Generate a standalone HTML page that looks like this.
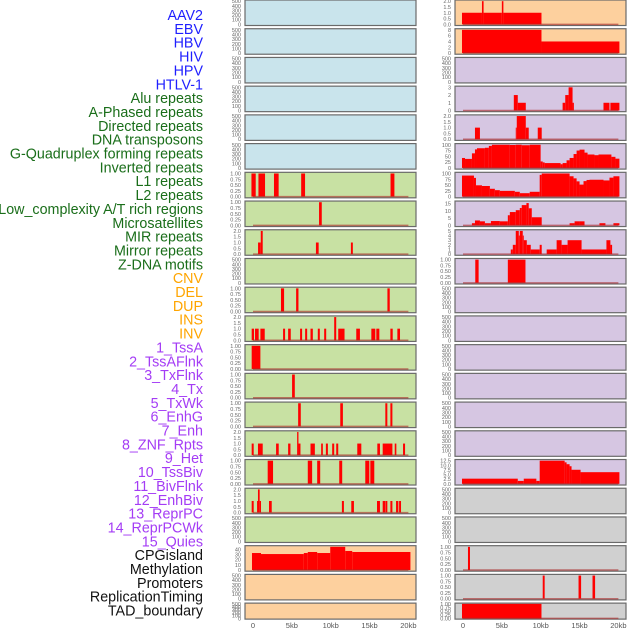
<!DOCTYPE html>
<html><head><meta charset="utf-8">
<style>
html,body{margin:0;padding:0;background:#fff;width:630px;height:630px;overflow:hidden}
svg{display:block}
.lab{font-family:"Liberation Sans",sans-serif;font-size:14.3px}
.tk{font-family:"Liberation Sans",sans-serif;font-size:5.5px;fill:#666}
.xt{font-family:"Liberation Sans",sans-serif;font-size:7.5px;fill:#555}
</style></head>
<body>
<svg id="chart" width="630" height="630"></svg>
<script>
// ---- labels ----
const labelNames = ["AAV2","EBV","HBV","HIV","HPV","HTLV-1","Alu repeats","A-Phased repeats","Directed repeats","DNA transposons","G-Quadruplex forming repeats","Inverted repeats","L1 repeats","L2 repeats","Low_complexity A/T rich regions","Microsatellites","MIR repeats","Mirror repeats","Z-DNA motifs","CNV","DEL","DUP","INS","INV","1_TssA","2_TssAFlnk","3_TxFlnk","4_Tx","5_TxWk","6_EnhG","7_Enh","8_ZNF_Rpts","9_Het","10_TssBiv","11_BivFlnk","12_EnhBiv","13_ReprPC","14_ReprPCWk","15_Quies","CPGisland","Methylation","Promoters","ReplicationTiming","TAD_boundary"];
const labelGroups = ["v","v","v","v","v","v","r","r","r","r","r","r","r","r","r","r","r","r","r","c","c","c","c","c","s","s","s","s","s","s","s","s","s","s","s","s","s","s","s","o","o","o","o","o"];
const xTickValues = [0,5,10,15,20];
const xTickLabels = ["0","5kb","10kb","15kb","20kb"];

// ---- left column series (segments: [startKb, endKb, value]) ----
const L7 = [[-0.2,0.35,1],[0.7,1.55,1],[2.7,3.3,1],[6.2,6.7,1],[17.7,18.2,1]];
const L8 = [[8.5,8.85,1]];
const L9 = [[0.65,1.0,1],[1.0,1.25,2],[8.1,8.45,1],[12.6,12.85,1]];
const L11 = [[3.6,4.0,1],[5.55,5.85,1],[17.3,17.6,1]];
const L12 = [[-0.17,0.13,1],[0.26,0.73,1],[0.95,1.51,1],[3.87,4.13,1],[4.52,4.86,1],[6.06,6.32,1],[6.71,6.97,1],[7.4,7.7,1],[8.34,8.6,1],[9.16,9.42,1],[10.45,10.71,2],[10.97,11.78,1],[13.29,13.76,1],[15.23,15.74,1],[15.87,16.26,1],[17.68,17.98,1],[18.58,18.92,1]];
const L13 = [[-0.17,0.95,1]];
const L14 = [[5.03,5.38,1]];
const L15 = [[5.81,6.15,1],[11.23,11.57,1],[17.03,17.29,1],[17.68,17.94,1]];
const L16 = [[-0.17,0.09,1],[0.64,1.25,1],[2.97,3.31,1],[4.52,4.82,1],[5.68,5.85,2],[5.85,6.11,1],[7.4,7.96,1],[8.77,8.99,1],[9.38,9.64,1],[10.19,10.45,1],[10.71,10.97,1],[13.42,13.94,1],[16.0,16.34,1],[16.69,17.94,1],[18.24,18.45,1],[19.31,19.57,1]];
const L17 = [[1.89,2.58,1],[7.05,7.61,1],[8.26,8.65,1],[11.1,11.48,1],[14.45,14.97,1],[15.1,15.61,1]];
const L18 = [[-0.17,0.09,1],[0.52,0.64,1],[0.64,0.86,2],[0.86,1.03,1],[2.06,2.41,1],[11.44,11.7,1],[12.65,12.99,1],[15.96,16.34,1],[16.69,16.99,1],[17.03,17.29,1],[17.68,17.94,1],[18.41,18.71,1],[18.8,19.05,1]];
const L20 = [[-0.13,1.03,33],[1.03,6.54,31],[6.54,7.05,33],[7.05,8.26,35],[8.26,9.94,33],[9.94,11.87,45],[11.87,12.77,37],[12.77,20.26,35]];

// ---- right column series ----
const R1 = [[-0.13,2.44,1],[2.44,2.65,2],[2.65,5.0,1],[5.0,5.2,2],[5.2,10.1,1]];
const R2 = [[-0.13,10.1,8],[10.1,20.13,4]];
const R4 = [[6.54,7.05,2],[7.05,8.08,1],[12.82,13.16,1],[13.16,13.59,2],[13.59,14.1,3],[14.1,14.27,1],[18.08,18.85,1],[18.97,20.13,1]];
const R5 = [[1.54,2.18,1],[6.79,6.92,1],[6.92,8.08,2],[8.08,8.46,1],[9.62,10.13,1]];
const R6 = [[-0.13,0.26,43],[0.26,1.15,39],[1.15,1.54,63],[1.54,1.8,80],[1.8,2.82,85],[2.82,3.33,87],[3.33,3.72,95],[3.72,6.03,100],[6.03,6.79,99],[6.79,7.56,100],[7.56,8.59,98],[8.59,9.99,100],[9.99,10.26,28],[10.26,10.51,24],[10.51,12.56,21],[12.56,12.82,16],[12.82,13.33,21],[13.33,13.72,33],[13.72,14.23,43],[14.23,14.62,60],[14.62,15.0,75],[15.0,15.64,79],[15.64,16.03,66],[16.03,16.92,58],[16.92,17.44,55],[17.44,19.1,58],[19.1,19.62,48],[19.62,20.13,40]];
const R7 = [[-0.13,1.41,91],[1.41,1.67,81],[1.67,2.44,49],[2.44,3.46,46],[3.46,4.1,34],[4.1,4.74,28],[4.74,6.67,25],[6.67,7.31,21],[7.31,8.59,15],[8.59,9.87,21],[9.87,10.13,94],[10.13,13.72,100],[13.72,14.23,88],[14.23,14.62,79],[14.62,15.0,66],[15.0,15.51,52],[15.51,15.9,67],[15.9,16.28,72],[16.28,18.08,73],[18.08,18.85,70],[18.85,19.36,82],[19.36,20.13,88]];
const R8 = [[1.15,1.54,1.5],[1.54,2.18,3.4],[2.18,2.82,2.8],[2.82,3.59,1.5],[3.59,4.74,3],[4.74,5.77,2.8],[5.77,6.03,7],[6.03,6.79,9.2],[6.79,7.31,10.5],[7.31,7.56,12],[7.56,8.16,14],[8.16,8.46,15.4],[8.46,8.85,11.8],[8.85,10.13,5.6],[13.72,14.36,1.5],[14.36,15.0,2.8],[15.0,15.64,2.8],[17.56,18.33,1.5],[19.36,20.13,1.5]];
const R9 = [[6.15,6.41,1],[6.41,6.79,2],[6.79,7.18,5],[7.18,7.31,4],[7.31,7.69,5],[7.69,7.82,4],[7.82,8.21,3],[8.21,8.72,2],[8.72,9.87,1],[9.87,10.13,2],[10.77,12.05,1],[12.05,12.69,3],[12.69,13.46,2],[13.46,15.26,3],[15.26,18.46,1],[18.46,18.97,3],[18.97,19.19,2]];
const R10 = [[1.58,2.01,1],[5.77,8.04,1]];
const R17 = [[-0.13,7.05,2.8],[7.05,7.82,1.6],[7.82,9.44,2.8],[9.44,9.87,1.6],[9.87,13.08,12.5],[13.08,13.33,11.6],[13.33,13.72,10.6],[13.72,13.97,9.5],[13.97,15.13,7.6],[15.13,20.13,6.3]];
const R20 = [[0.64,0.9,1]];
const R21 = [[10.26,10.51,1],[14.87,15.2,1],[16.67,17.0,1]];
const R22 = [[-0.13,10.1,1]];

const T500=[0,100,200,300,400,500], T1=[0,0.25,0.5,0.75,1], T2=[0,0.5,1,1.5,2];
const BLUE="#c9e4ec", GREEN="#c8e1a3", ORANGE="#fdd09e", PURPLE="#d6c6e2", GREY="#d0d0d0";
const leftPanels = [
 [BLUE,500,T500,0,null],[BLUE,500,T500,0,null],[BLUE,500,T500,0,null],[BLUE,500,T500,0,null],[BLUE,500,T500,0,null],[BLUE,500,T500,0,null],
 [GREEN,1,T1,2,L7],[GREEN,1,T1,2,L8],[GREEN,2,T2,1,L9],[GREEN,500,T500,0,null],[GREEN,1,T1,2,L11],[GREEN,2,T2,1,L12],
 [GREEN,1,T1,2,L13],[GREEN,1,T1,2,L14],[GREEN,1,T1,2,L15],[GREEN,2,T2,1,L16],[GREEN,1,T1,2,L17],[GREEN,2,T2,1,L18],[GREEN,500,T500,0,null],
 [ORANGE,45,[0,10,20,30,40],0,L20],[ORANGE,500,T500,0,null],[ORANGE,500,T500,0,null]];
const rightPanels = [
 [ORANGE,2,T2,1,R1],[ORANGE,8,[0,2,4,6,8],0,R2],[PURPLE,500,T500,0,null],[PURPLE,3,[0,1,2,3],0,R4],[PURPLE,2,T2,1,R5],
 [PURPLE,100,[0,25,50,75,100],0,R6],[PURPLE,100,[0,25,50,75,100],0,R7],[PURPLE,16,[0,5,10,15],0,R8],[PURPLE,5,[0,1,2,3,4,5],0,R9],
 [PURPLE,1,T1,2,R10],[PURPLE,500,T500,0,null],[PURPLE,500,T500,0,null],[PURPLE,500,T500,0,null],[PURPLE,500,T500,0,null],[PURPLE,500,T500,0,null],[PURPLE,500,T500,0,null],
 [PURPLE,12.5,[0,2.5,5,7.5,10,12.5],1,R17],[GREY,500,T500,0,null],[GREY,500,T500,0,null],[GREY,1,T1,2,R20],[GREY,1,T1,2,R21],[GREY,1,T1,2,R22]];

const NS="http://www.w3.org/2000/svg";
const svg=document.getElementById('chart');
function mk(tag,attrs,parent){const e=document.createElementNS(NS,tag);for(const k in attrs)e.setAttribute(k,attrs[k]);(parent||svg).appendChild(e);return e;}

const gcol={v:"#1f1fff",r:"#1a6e1a",c:"#ffa500",s:"#a43cf5",o:"#111"};
labelNames.forEach((n,i)=>{
  const t=mk('text',{x:203,y:15+i*13.85+5,'text-anchor':'end',class:'lab',fill:gcol[labelGroups[i]]});
  t.textContent=n;
  
  
});

function rowTop(i){return i*28.72;}
function drawColumn(panels,x0,side){
  const W=171, kbToPx=7.77, x=kb=>x0+8+kb*kbToPx;
  panels.forEach((p,i)=>{
    const [bg,M,ticks,dec,data]=p;
    const top=rowTop(i), h=(i===21)?16:25.5;
    const lo=-0.05*M, hi=1.05*M;
    const y=v=>top+h-(v-lo)/(hi-lo)*h;
    const g=mk('g',{});
    
    
    const r=mk('rect',{x:x0,y:top,width:W,height:h,fill:bg,stroke:'#6a6a6a','stroke-width':1.2},g);
    
    
    ticks.forEach(tv=>{
      const t=mk('text',{x:x0-4,y:y(tv)+2,'text-anchor':'end',class:'tk'},g);
      t.textContent=tv.toFixed(dec);
      
      
    });
    if(data){
      data.forEach(s=>{
        const b=mk('rect',{x:x(s[0]),y:y(s[2]),width:Math.max(0.8,x(s[1])-x(s[0])),height:y(0)-y(s[2]),fill:'#ff0000'},g);
        
        
      });
      const bl=mk('line',{x1:x(0),x2:x(20),y1:y(0),y2:y(0),stroke:'rgba(170,40,40,0.6)','stroke-width':1.5},g);
      
      
    }
  });
  xTickValues.forEach((v,k)=>{
    const t=mk('text',{x:x(v),y:628,'text-anchor':'middle',class:'xt'});
    t.textContent=xTickLabels[k];
    
    
  });
}
drawColumn(leftPanels,245,'left');
drawColumn(rightPanels,455,'right');
</script>
</body></html>
